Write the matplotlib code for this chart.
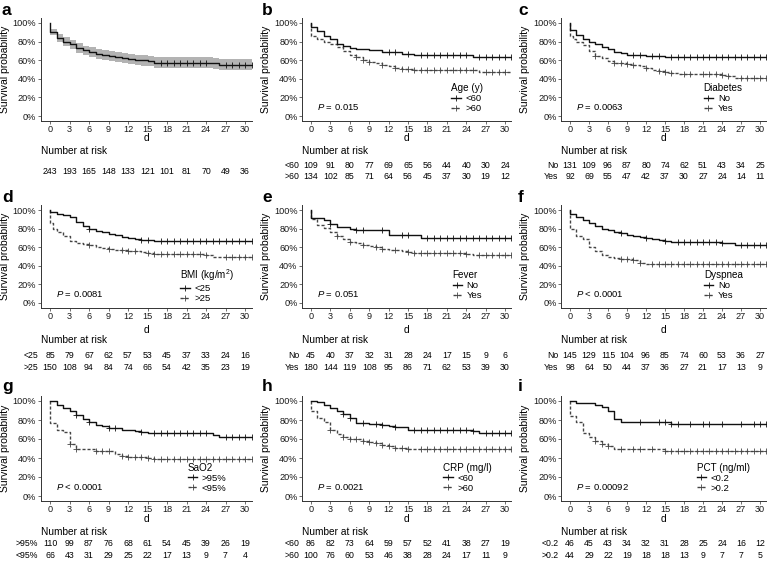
import numpy as np
import matplotlib
matplotlib.use("Agg")
import matplotlib.pyplot as plt
from matplotlib.lines import Line2D
from matplotlib import transforms

plt.rcParams['font.family'] = ['Liberation Sans', 'DejaVu Sans']
plt.rcParams['mathtext.fontset'] = 'custom'
plt.rcParams['mathtext.rm'] = 'Liberation Sans'
plt.rcParams['mathtext.it'] = 'Liberation Sans:italic'

days = [0, 3, 6, 9, 12, 15, 18, 21, 24, 27, 30]

# a: all patients (with 95% CI)
a_t = [0, 0, 1, 2, 3, 4, 5, 6, 7, 8, 9, 10, 11, 12, 13, 14, 15, 16, 25, 26]
a_s = [1.0, 0.905, 0.84, 0.80, 0.77, 0.73, 0.705, 0.69, 0.67, 0.655, 0.645, 0.635, 0.625, 0.615, 0.605, 0.598, 0.59, 0.575, 0.565, 0.55]
a_lo = [1.0, 0.875, 0.80, 0.755, 0.72, 0.68, 0.655, 0.635, 0.615, 0.60, 0.59, 0.58, 0.57, 0.56, 0.55, 0.54, 0.535, 0.52, 0.505, 0.49]
a_hi = [1.0, 0.935, 0.88, 0.845, 0.815, 0.78, 0.755, 0.74, 0.725, 0.71, 0.70, 0.69, 0.68, 0.67, 0.66, 0.655, 0.645, 0.63, 0.625, 0.61]
a_c = [17, 18, 19, 20, 21, 22, 23, 24, 27, 28, 29, 30, 31]
a_risk = [243, 193, 165, 148, 133, 121, 101, 81, 70, 49, 36]

# b: age
b_t1 = [0, 0, 1, 2, 3, 4, 5, 6, 7, 9, 11, 14, 16, 25]
b_s1 = [1.0, 0.96, 0.91, 0.86, 0.83, 0.77, 0.755, 0.73, 0.72, 0.705, 0.69, 0.67, 0.655, 0.635]
b_c1 = [12, 13, 15, 17, 18, 19, 20, 21, 22, 23, 24, 26, 27, 28, 29, 30, 31]
b_t2 = [0, 0, 1, 2, 3, 4, 5, 6, 7, 8, 9, 10, 11, 12, 13, 14, 16, 26]
b_s2 = [1.0, 0.855, 0.83, 0.80, 0.77, 0.74, 0.70, 0.66, 0.63, 0.60, 0.58, 0.565, 0.55, 0.535, 0.52, 0.51, 0.495, 0.475]
b_c2 = [7, 8, 9, 11, 13, 14, 15, 16, 17, 18, 19, 20, 21, 22, 23, 24, 25, 27, 28, 29, 30]
b_risk1 = [109, 91, 80, 77, 69, 65, 56, 44, 40, 30, 24]
b_risk2 = [134, 102, 85, 71, 64, 56, 45, 37, 30, 19, 12]

# c: diabetes
c_t1 = [0, 0, 1, 2, 3, 4, 5, 6, 7, 8, 9, 11, 12, 15]
c_s1 = [1.0, 0.93, 0.87, 0.83, 0.80, 0.77, 0.74, 0.72, 0.69, 0.68, 0.66, 0.655, 0.645, 0.63]
c_c1 = [10, 11, 13, 14, 16, 17, 18, 19, 20, 21, 22, 23, 24, 25, 26, 27, 28, 29, 30, 31]
c_t2 = [0, 0, 0.5, 1, 2, 3, 4, 5, 6, 7, 8, 9, 10, 11, 12, 13, 14, 15, 16, 17, 22, 24, 25, 26]
c_s2 = [1.0, 0.86, 0.83, 0.80, 0.76, 0.70, 0.64, 0.62, 0.595, 0.575, 0.565, 0.555, 0.545, 0.535, 0.515, 0.495, 0.485, 0.475, 0.465, 0.455, 0.45, 0.44, 0.43, 0.41]
c_c2 = [4, 7, 8, 9, 10, 12, 14, 15, 16, 18, 19, 21, 22, 23, 24, 25, 27, 28, 29, 30, 31]
c_risk1 = [131, 109, 96, 87, 80, 74, 62, 51, 43, 34, 25]
c_risk2 = [92, 69, 55, 47, 42, 37, 30, 27, 24, 14, 11]

# d: BMI
d_t1 = [0, 0, 1, 2, 3, 4, 5, 6, 7, 8, 9, 10, 11, 12, 13, 14, 16]
d_s1 = [1.0, 0.975, 0.96, 0.95, 0.93, 0.87, 0.83, 0.80, 0.775, 0.76, 0.745, 0.73, 0.71, 0.70, 0.685, 0.675, 0.665]
d_c1 = [6, 14, 15, 17, 18, 19, 20, 21, 22, 23, 24, 25, 26, 27, 28, 29, 30, 31]
d_t2 = [0, 0, 0.5, 1, 2, 3, 4, 5, 6, 7, 8, 9, 10, 11, 12, 13, 14, 15, 16, 18, 24, 25, 26]
d_s2 = [1.0, 0.86, 0.80, 0.76, 0.72, 0.67, 0.65, 0.635, 0.62, 0.60, 0.59, 0.58, 0.575, 0.565, 0.56, 0.555, 0.55, 0.54, 0.53, 0.525, 0.52, 0.50, 0.49]
d_c2 = [6, 9, 11, 12, 13, 15, 16, 17, 18, 19, 20, 21, 22, 23, 24, 27, 28, 29, 30, 31]
d_risk1 = [85, 79, 67, 62, 57, 53, 45, 37, 33, 24, 16]
d_risk2 = [150, 108, 94, 84, 74, 66, 54, 42, 35, 23, 19]

# e: fever
e_t1 = [0, 0, 2, 3, 4, 6, 7, 12, 17]
e_s1 = [1.0, 0.91, 0.89, 0.85, 0.82, 0.80, 0.78, 0.73, 0.70]
e_c1 = [3, 7, 8, 11, 14, 15, 18, 19, 20, 21, 22, 23, 24, 25, 26, 27, 28, 29, 30, 31]
e_t2 = [0, 0, 1, 2, 3, 4, 5, 6, 7, 8, 9, 10, 11, 12, 13, 14, 15, 16, 24, 25]
e_s2 = [1.0, 0.90, 0.84, 0.81, 0.76, 0.72, 0.69, 0.66, 0.64, 0.62, 0.61, 0.60, 0.58, 0.57, 0.565, 0.555, 0.55, 0.54, 0.53, 0.52]
e_c2 = [4, 6, 8, 10, 11, 13, 15, 16, 17, 18, 19, 20, 21, 22, 23, 24, 26, 27, 28, 29, 30, 31]
e_risk1 = [45, 40, 37, 32, 31, 28, 24, 17, 15, 9, 6]
e_risk2 = [180, 144, 119, 108, 95, 86, 71, 62, 53, 39, 30]

# f: dyspnea
f_t1 = [0, 0, 1, 2, 3, 4, 5, 6, 7, 8, 9, 10, 11, 12, 13, 14, 15, 16, 17, 24, 26]
f_s1 = [1.0, 0.96, 0.92, 0.89, 0.86, 0.83, 0.80, 0.78, 0.76, 0.75, 0.73, 0.72, 0.71, 0.70, 0.69, 0.68, 0.67, 0.66, 0.655, 0.645, 0.625]
f_c1 = [8, 12, 15, 17, 18, 19, 20, 21, 22, 23, 24, 27, 28, 29, 30, 31]
f_t2 = [0, 0, 1, 2, 3, 4, 5, 6, 7, 8, 10, 11, 12]
f_s2 = [1.0, 0.80, 0.72, 0.69, 0.60, 0.56, 0.52, 0.50, 0.48, 0.47, 0.46, 0.43, 0.42]
f_c2 = [8, 9, 10, 11, 13, 14, 15, 16, 17, 18, 19, 20, 21, 22, 23, 24, 25, 26, 27, 28, 29, 30, 31]
f_risk1 = [145, 129, 115, 104, 96, 85, 74, 60, 53, 36, 27]
f_risk2 = [98, 64, 50, 44, 37, 36, 27, 21, 17, 13, 9]

# g: SaO2
g_t1 = [0, 1, 2, 3, 4, 5, 6, 7, 8, 9, 11, 12, 13, 14, 15, 25, 26]
g_s1 = [1.0, 0.96, 0.93, 0.89, 0.85, 0.81, 0.78, 0.75, 0.74, 0.72, 0.70, 0.69, 0.68, 0.67, 0.66, 0.64, 0.62]
g_c1 = [4, 6, 9, 10, 14, 16, 17, 18, 19, 20, 21, 22, 23, 24, 27, 28, 29, 30, 31]
g_t2 = [0, 0, 1, 2, 3, 4, 7, 10, 11, 12, 15, 16]
g_s2 = [1.0, 0.77, 0.70, 0.67, 0.55, 0.50, 0.47, 0.44, 0.42, 0.41, 0.40, 0.39]
g_c2 = [3, 4, 7, 8, 9, 11, 12, 13, 14, 15, 16, 17, 18, 19, 20, 21, 22, 23, 24, 25, 26, 27, 28, 29, 30, 31]
g_risk1 = [110, 99, 87, 76, 68, 61, 54, 45, 39, 26, 19]
g_risk2 = [66, 43, 31, 29, 25, 22, 17, 13, 9, 7, 4]

# h: CRP
h_t1 = [0, 1, 2, 3, 4, 5, 6, 7, 9, 11, 12, 13, 15, 25, 26]
h_s1 = [1.0, 0.99, 0.96, 0.93, 0.90, 0.86, 0.82, 0.77, 0.76, 0.75, 0.74, 0.73, 0.70, 0.68, 0.66]
h_c1 = [5, 6, 8, 10, 11, 13, 16, 17, 18, 19, 20, 21, 22, 23, 24, 25, 27, 28, 29, 30, 31]
h_t2 = [0, 0, 1, 2, 3, 4, 5, 6, 7, 8, 9, 10, 11, 12, 13, 14, 15, 16]
h_s2 = [1.0, 0.90, 0.82, 0.78, 0.70, 0.65, 0.62, 0.605, 0.595, 0.58, 0.565, 0.555, 0.54, 0.525, 0.51, 0.505, 0.50, 0.49]
h_c2 = [3, 5, 6, 7, 8, 9, 10, 11, 12, 13, 14, 15, 17, 18, 19, 20, 21, 22, 23, 24, 25, 26, 27, 28, 29, 30, 31]
h_risk1 = [86, 82, 73, 64, 59, 57, 52, 41, 38, 27, 19]
h_risk2 = [100, 76, 60, 53, 46, 38, 28, 24, 17, 11, 9]

# i: PCT
i_t1 = [0, 1, 4, 5, 6, 7, 8, 16]
i_s1 = [1.0, 0.98, 0.96, 0.94, 0.89, 0.81, 0.78, 0.76]
i_c1 = [11, 14, 15, 16, 17, 19, 21, 22, 24, 27, 29, 30, 31]
i_t2 = [0, 0, 1, 2, 3, 4, 5, 6, 7, 9, 15]
i_s2 = [1.0, 0.84, 0.78, 0.66, 0.62, 0.58, 0.55, 0.53, 0.50, 0.495, 0.47]
i_c2 = [4, 5, 6, 8, 10, 11, 13, 15, 16, 17, 18, 19, 20, 21, 22, 23, 24, 25, 26, 27, 28, 29, 30, 31]
i_risk1 = [46, 45, 43, 34, 32, 31, 28, 25, 24, 16, 12]
i_risk2 = [44, 29, 22, 19, 18, 18, 13, 9, 7, 7, 5]

titles = ["Age (y)", "Diabetes", "BMI (kg/m$^2$)", "Fever", "Dyspnea", "SaO2", "CRP (mg/l)", "PCT (ng/ml)"]
groups = [["<60", ">60"], ["No", "Yes"], ["<25", ">25"], ["No", "Yes"], ["No", "Yes"],
          [">95%", "<95%"], ["<60", ">60"], ["<0.2", ">0.2"]]
pvals = ["= 0.015", "= 0.0063", "= 0.0081", "= 0.051", "< 0.0001", "< 0.0001", "= 0.0021", "= 0.00092"]

W, H = 774, 563
fig = plt.figure(figsize=(W / 100, H / 100), dpi=100)
XL = (-1.4, 31.0)
YL = (-0.05, 1.05)
C1 = '#111111'
C2 = '#444444'
DASH = (0, (2.2, 1.4))


def make_ax(x0, x30, y100, y0, labelpad):
    sx = (x30 - x0) / 30.0
    sy = (y0 - y100)
    left = x0 + XL[0] * sx
    right = x0 + XL[1] * sx
    top = y100 - (YL[1] - 1) * sy
    bottom = y0 - YL[0] * sy
    ax = fig.add_axes([left / W, 1 - bottom / H, (right - left) / W, (bottom - top) / H])
    ax.set_xlim(XL)
    ax.set_ylim(YL)
    for s in ['top', 'right']:
        ax.spines[s].set_visible(False)
    for s in ['left', 'bottom']:
        ax.spines[s].set_linewidth(0.7)
        ax.spines[s].set_color('#333333')
    ax.set_xticks(days)
    ax.set_yticks([0, 0.2, 0.4, 0.6, 0.8, 1.0])
    ax.set_yticklabels(['0%', '20%', '40%', '60%', '80%', '100%'])
    ax.tick_params(labelsize=6.6, length=2, width=0.5, pad=1.2, colors='#333333', labelcolor='#1a1a1a')
    ax.set_xlabel('d', fontsize=7.5, labelpad=labelpad)
    ax.set_ylabel('Survival probability', fontsize=7.5, labelpad=2)
    return ax


def km(ax, t, s, cens, color, ls):
    t = np.array(t, float)
    s = np.array(s, float)
    ax.step(np.append(t, XL[1]), np.append(s, s[-1]), where='post', color=color, lw=1.0, ls=ls)
    idx = np.searchsorted(t, cens, side='right') - 1
    ax.plot(cens, s[idx], ls='none', marker='+', ms=4.2, mew=0.6, color=color)


def risk(ax, ypx_head, rows, ypx_rows, labels):
    trd = transforms.blended_transform_factory(ax.transData, fig.transFigure)
    tra = transforms.blended_transform_factory(ax.transAxes, fig.transFigure)
    ax.text(0, 1 - ypx_head / H, 'Number at risk', transform=tra, ha='left', va='center', fontsize=7.3)
    for r, ypx, lab in zip(rows, ypx_rows, labels):
        for d, n in zip(days, r):
            ax.text(d, 1 - ypx / H, str(n), transform=trd, ha='center', va='center', fontsize=6.3)
        if lab:
            ax.text(-0.012, 1 - ypx / H, lab, transform=tra, ha='right', va='center', fontsize=6.3)


# layout per panel: (x of day 0, x of day 30, y of 100%, y of 0%) in pixels
cols = [(50, 245), (311, 505), (570, 760)]
rows_y = [(23, 116), (210, 303), (401, 496)]
heads = [151, 340, 532]
tab_rows = [(166, 177), (356, 367), (544, 555)]
lab_pads = [-0.8, 2.8, 0.2]
letter_x = [2, 262, 518]
letter_y = [15, 202, 391]

curves = [(b_t1, b_s1, b_c1, b_t2, b_s2, b_c2, b_risk1, b_risk2),
          (c_t1, c_s1, c_c1, c_t2, c_s2, c_c2, c_risk1, c_risk2),
          (d_t1, d_s1, d_c1, d_t2, d_s2, d_c2, d_risk1, d_risk2),
          (e_t1, e_s1, e_c1, e_t2, e_s2, e_c2, e_risk1, e_risk2),
          (f_t1, f_s1, f_c1, f_t2, f_s2, f_c2, f_risk1, f_risk2),
          (g_t1, g_s1, g_c1, g_t2, g_s2, g_c2, g_risk1, g_risk2),
          (h_t1, h_s1, h_c1, h_t2, h_s2, h_c2, h_risk1, h_risk2),
          (i_t1, i_s1, i_c1, i_t2, i_s2, i_c2, i_risk1, i_risk2)]

letters = 'abcdefghi'
for k in range(9):
    r, c = divmod(k, 3)
    x0, x30 = cols[c]
    y100, y0 = rows_y[r]
    ax = make_ax(x0, x30, y100, y0, lab_pads[r])
    fig.text(letter_x[c] / W, 1 - letter_y[r] / H, letters[k], fontsize=12.5, fontweight='bold', va='baseline')
    if k == 0:
        ax.fill_between(np.append(a_t, XL[1]), np.append(a_lo, a_lo[-1]), np.append(a_hi, a_hi[-1]),
                        step='post', color='#b3b3b3', lw=0)
        km(ax, a_t, a_s, a_c, C1, '-')
        risk(ax, heads[r], [a_risk], [172], [None])
        continue
    t1, s1, c1, t2, s2, c2, r1, r2 = curves[k - 1]
    km(ax, t2, s2, c2, C2, DASH)
    km(ax, t1, s1, c1, C1, '-')
    ax.text(1.0, 0.1, r'$\mathit{P}$ ' + pvals[k - 1], fontsize=6.8, ha='left', va='center')
    handles = [Line2D([], [], color=C1, lw=1.0, marker='+', ms=4.2, mew=0.6),
               Line2D([], [], color=C2, lw=1.0, ls=DASH, marker='+', ms=4.2, mew=0.6)]
    leg = ax.legend(handles, groups[k - 1], title=titles[k - 1], loc='center', bbox_to_anchor=(0.79, 0.22),
                    frameon=False, fontsize=6.8, title_fontsize=7.1, handlelength=1.0, handletextpad=0.5,
                    labelspacing=0.1, borderpad=0, alignment='left')
    risk(ax, heads[r], [r1, r2], tab_rows[r], groups[k - 1])

fig.savefig('out.png', dpi=100)
